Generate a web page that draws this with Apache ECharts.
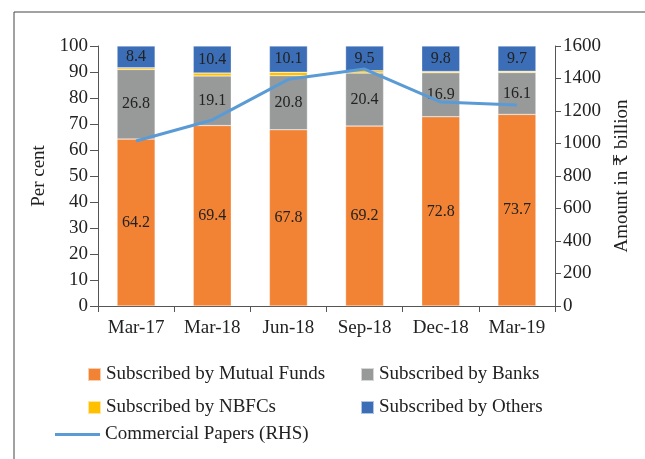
<!DOCTYPE html>
<html>
<head>
<meta charset="utf-8">
<script src="https://cdn.jsdelivr.net/npm/echarts@6/dist/echarts.min.js"></script>
<style>
  html, body { margin: 0; padding: 0; background: #fff; }
  #chart { width: 645px; height: 459px; }
</style>
</head>
<body>
<div id="chart"></div>
<script>
  var categories = ['Mar-17', 'Mar-18', 'Jun-18', 'Sep-18', 'Dec-18', 'Mar-19'];
  var mutualFunds = [64.2, 69.4, 67.8, 69.2, 72.8, 73.7];
  var banks = [26.8, 19.1, 20.8, 20.4, 16.9, 16.1];
  var nbfcs = [0.6, 1.1, 1.3, 0.9, 0.5, 0.5];
  var others = [8.4, 10.4, 10.1, 9.5, 9.8, 9.7];
  var commercialPapers = [1015, 1145, 1395, 1458, 1255, 1237];

  var font = '"Liberation Serif", "DejaVu Serif", serif';
  var axisColor = '#555';
  var textColor = '#222';

  var chart = echarts.init(document.getElementById('chart'));

  function barSeries(name, data, color, showLabel) {
    return {
      name: name,
      type: 'bar',
      stack: 'total',
      barWidth: 38,
      data: data,
      itemStyle: { color: color, borderColor: 'rgba(255,255,255,0.6)', borderWidth: 0.5 },
      label: {
        show: showLabel,
        position: 'inside',
        color: textColor,
        fontFamily: font,
        fontSize: 16
      },
      emphasis: { disabled: true }
    };
  }

  // one legend per entry so each can sit where the original puts it
  function legendAt(name, left, top, isLine) {
    return {
      data: [name],
      left: left,
      top: top,
      padding: 0,
      icon: isLine ? 'path://M0,0 L47,0 L47,3 L0,3 Z' : 'rect',
      itemWidth: isLine ? 45 : 13,
      itemHeight: isLine ? 3 : 13,
      itemGap: 0,
      textStyle: { fontFamily: font, fontSize: 19, color: textColor }
    };
  }

  chart.setOption({
    animation: false,
    graphic: [{
      type: 'rect',
      shape: { x: 14, y: 12, width: 700, height: 500 },
      style: { fill: 'none', stroke: '#444', lineWidth: 1 },
      silent: true
    }],
    legend: [
      legendAt('Subscribed by Mutual Funds', 87, 365),
      legendAt('Subscribed by Banks', 360, 365),
      legendAt('Subscribed by NBFCs', 87, 398),
      legendAt('Subscribed by Others', 360, 398),
      legendAt('Commercial Papers (RHS)', 55, 425, true)
    ],
    grid: { left: 98, right: 90, top: 46, bottom: 153 },
    xAxis: {
      type: 'category',
      data: categories,
      axisLine: { lineStyle: { color: axisColor, width: 1 } },
      axisTick: { show: true, length: 6, lineStyle: { color: axisColor } },
      axisLabel: { fontFamily: font, fontSize: 19, color: textColor, margin: 13 }
    },
    yAxis: [{
      type: 'value',
      min: 0,
      max: 100,
      interval: 10,
      name: 'Per cent',
      nameLocation: 'middle',
      nameGap: 48,
      nameTextStyle: { fontFamily: font, fontSize: 19, color: textColor },
      splitLine: { show: false },
      axisLine: { show: true, lineStyle: { color: axisColor } },
      axisTick: { show: true, length: 8, lineStyle: { color: axisColor } },
      axisLabel: { fontFamily: font, fontSize: 19, color: textColor, margin: 10 }
    }, {
      type: 'value',
      min: 0,
      max: 1600,
      interval: 200,
      name: 'Amount in ₹ billion',
      nameLocation: 'middle',
      nameGap: 58,
      nameRotate: 90,
      nameTextStyle: { fontFamily: font, fontSize: 19, color: textColor },
      splitLine: { show: false },
      axisLine: { show: true, lineStyle: { color: axisColor } },
      axisTick: { show: true, length: 6, lineStyle: { color: axisColor } },
      axisLabel: {
        fontFamily: font, fontSize: 19, color: textColor, margin: 8,
        formatter: function (v) { return String(v); }
      }
    }],
    series: [
      barSeries('Subscribed by Mutual Funds', mutualFunds, '#F28334', true),
      barSeries('Subscribed by Banks', banks, '#989A99', true),
      barSeries('Subscribed by NBFCs', nbfcs, '#FFC000', false),
      barSeries('Subscribed by Others', others, '#3B6EB7', true),
      {
        name: 'Commercial Papers (RHS)',
        type: 'line',
        yAxisIndex: 1,
        data: commercialPapers,
        symbol: 'none',
        lineStyle: { color: '#5B9BD5', width: 3 },
        itemStyle: { color: '#5B9BD5' },
        emphasis: { disabled: true }
      }
    ]
  });
</script>
</body>
</html>
